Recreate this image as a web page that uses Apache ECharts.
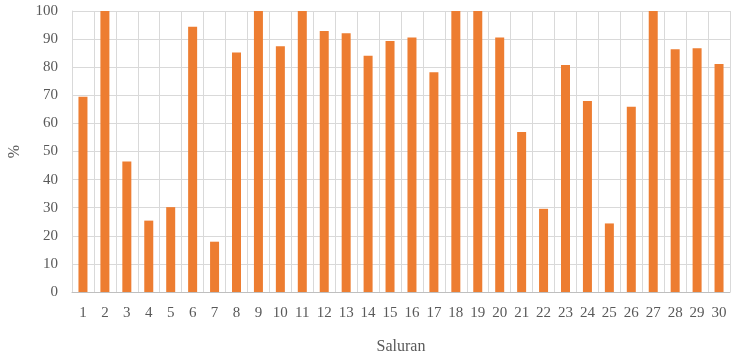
<!DOCTYPE html>
<html><head><meta charset="utf-8">
<script src="https://cdn.jsdelivr.net/npm/echarts@6/dist/echarts.min.js"></script>
<style>html,body{margin:0;padding:0;background:#fff}#c{width:732px;height:354px}</style>
</head><body><div id="c"></div>
<script>
const categories = ['1','2','3','4','5','6','7','8','9','10','11','12','13','14','15','16','17','18','19','20','21','22','23','24','25','26','27','28','29','30'];
const values = [69.5,100,46.4,25.4,30.2,94.4,17.9,85.2,100,87.5,100,92.9,92.1,84.1,89.3,90.6,78.2,100,100,90.6,56.9,29.6,80.8,68.0,24.4,65.9,100,86.4,86.7,81.1];
const yTicks = {min:0,max:100,interval:10};
const chart = echarts.init(document.getElementById('c'));
const font = '"Liberation Serif", "DejaVu Serif", serif';
chart.setOption({
  animation:false,
  grid:{left:72,right:2,top:11,bottom:62,containLabel:false,outerBoundsMode:'none'},
  xAxis:{type:'category',data:categories,
    name:'Saluran',nameLocation:'middle',nameGap:47,
    nameTextStyle:{fontFamily:font,fontSize:16,color:'#595959'},
    axisLine:{lineStyle:{color:'#bfbfbf',width:1}},
    axisTick:{show:false},
    axisLabel:{fontFamily:font,fontSize:15,color:'#595959',margin:14,interval:0},
    splitLine:{show:true,lineStyle:{color:'#d9d9d9',width:1}}
  },
  yAxis:{type:'value',min:yTicks.min,max:yTicks.max,interval:yTicks.interval,
    name:'%',nameLocation:'middle',nameGap:49,nameRotate:90,
    nameTextStyle:{fontFamily:font,fontSize:16,color:'#595959'},
    axisLine:{show:true,lineStyle:{color:'#d9d9d9'}},
    axisTick:{show:false},
    axisLabel:{fontFamily:font,fontSize:15,color:'#595959',margin:14},
    splitLine:{show:true,lineStyle:{color:'#d9d9d9',width:1}}
  },
  series:[{type:'bar',data:values,barWidth:9,itemStyle:{color:'#ED7D31'}}]
});
</script></body></html>
